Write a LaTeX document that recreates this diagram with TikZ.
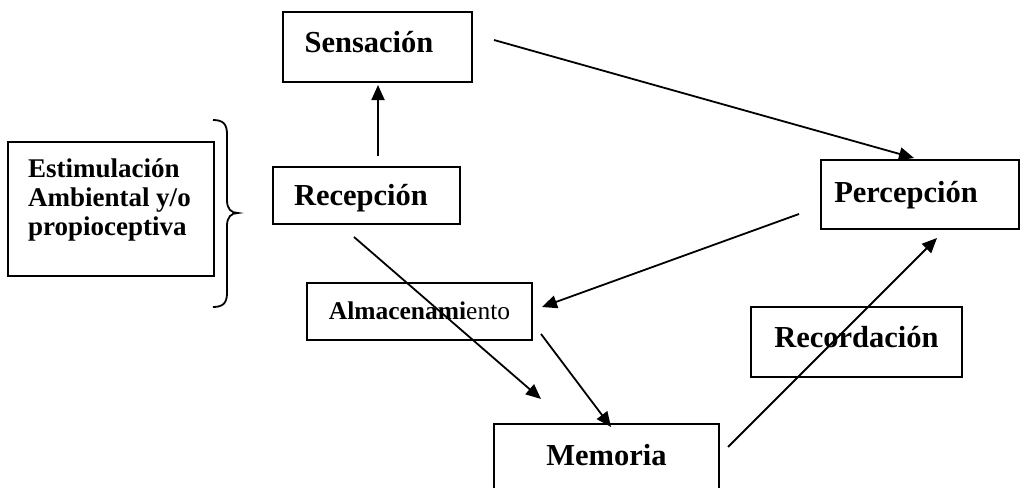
\documentclass[tikz,border=0pt]{standalone}
\usepackage{fontspec}
\setmainfont{Liberation Serif}
\usetikzlibrary{arrows.meta}
\newcommand\offtxt[3]{\raisebox{#2}[\height][\depth]{\hspace*{#1}#3\hspace*{-#1}}}
\begin{document}
\begin{tikzpicture}[x=1pt,y=-1pt,
  boxnode/.style={draw, line width=1.8pt, inner sep=0pt,
    font=\fontsize{30.5}{36}\selectfont\bfseries, text height=20.5pt, text depth=0pt},
  arr/.style={line width=1.8pt, -{Triangle[length=15pt,width=13pt]}},
  bracestyle/.style={line width=1.8pt}
  ]
\useasboundingbox (0,0) rectangle (1027,487);
\clip (0,0) rectangle (1027,487);

\node[boxnode, minimum width=189pt, minimum height=70pt] (sen) at (377.5,47) {\offtxt{-8.5pt}{5pt}{Sensación}};
\node[boxnode, minimum width=187pt, minimum height=57pt] (rec) at (366.5,195.5) {\offtxt{-5.5pt}{0pt}{Recepción}};
\node[boxnode, minimum width=198pt, minimum height=69pt] (per) at (920,194.5) {\offtxt{-14pt}{2.5pt}{Percepción}};
\node[boxnode, minimum width=225pt, minimum height=57pt, font=\fontsize{25.5}{30}\selectfont, text height=16pt] (alm) at (419.5,311.5) {\textbf{Almacenami}ento};
\node[boxnode, minimum width=211pt, minimum height=70pt] (rcd) at (856.5,342) {\offtxt{0pt}{4.5pt}{Recordación}};
\node[boxnode, minimum width=225pt, minimum height=70pt] (mem) at (606.5,459) {\offtxt{0pt}{4pt}{Memoria}};
\node[draw, line width=1.8pt, minimum width=206pt, minimum height=134pt, inner sep=0pt,
  font=\fontsize{27}{29}\selectfont\bfseries] (est) at (111,209)
  {\offtxt{-1.6pt}{8.8pt}{\begin{tabular}{@{}l@{}}Estimulación\\Ambiental y/o\\propioceptiva\end{tabular}}};

% brace
\draw[bracestyle] (213,120) .. controls (223,120) and (227,124) .. (227,134) -- (227,200)
  .. controls (227,209) and (231,213) .. (238,213)
  .. controls (231,213) and (227,217) .. (227,226) -- (227,293)
  .. controls (227,303) and (223,307) .. (213,307);

% connector ends
\coordinate (recTop) at (378,156);   \coordinate (senBot) at (378,85);
\coordinate (senRight) at (494,40);  \coordinate (perTop) at (914,158);
\coordinate (perLeft) at (799,214);  \coordinate (almRight) at (542,307);
\coordinate (recBot) at (354,237);   \coordinate (memLeftTop) at (541,399);
\coordinate (almBot) at (541,334);   \coordinate (memTop) at (611,427);
\coordinate (memRight) at (728,447); \coordinate (perBot) at (937,238);

\draw[arr] (recTop) -- (senBot);
\draw[arr] (senRight) -- (perTop);
\draw[arr] (perLeft) -- (almRight);
\draw[arr] (recBot) -- (memLeftTop);
\draw[arr] (almBot) -- (memTop);
\draw[arr] (memRight) -- (perBot);
\end{tikzpicture}
\end{document}
